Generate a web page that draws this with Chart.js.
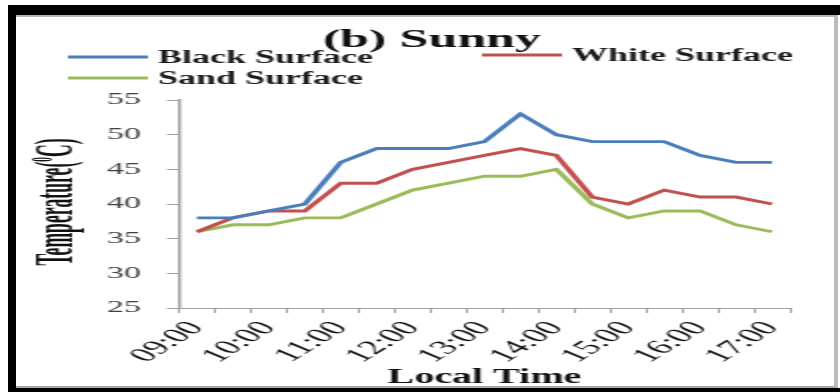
<!DOCTYPE html>
<html>
<head>
<meta charset="utf-8">
<script src="https://cdn.jsdelivr.net/npm/chart.js@4.4.0/dist/chart.umd.min.js"></script>
<style>
  html, body { margin: 0; padding: 0; background: #fff; }
  #wrap { position: relative; width: 840px; height: 392px; overflow: hidden; background: #fff; }
  #c { position: absolute; left: 0; top: 0; }
  .frame { position: absolute; box-sizing: content-box; }
</style>
</head>
<body>
<div id="wrap">
  <!-- drawn at half width, shown stretched across the frame -->
  <canvas id="c" width="420" height="392" style="width:840px;height:392px"></canvas>
  <div class="frame" style="left:16px;top:15px;width:818px;height:369px;border-top:2px solid #b4b4b4;border-right:4px solid #bcbcbc;border-bottom:2px solid #a8a8a8;"></div>
  <div class="frame" style="left:8px;top:5px;width:832px;height:10px;background:#000;"></div>
  <div class="frame" style="left:8px;top:5px;width:8px;height:387px;background:#000;"></div>
  <div class="frame" style="left:8px;top:388px;width:832px;height:4px;background:#000;"></div>
</div>
<script>
// Half-hourly readings, 09:00 to 17:00
const times = ['09:00','09:30','10:00','10:30','11:00','11:30','12:00','12:30','13:00',
               '13:30','14:00','14:30','15:00','15:30','16:00','16:30','17:00'];
const blackSurface = [38, 38, 39, 40, 46, 48, 48, 48, 49, 53, 50, 49, 49, 49, 47, 46, 46];
const whiteSurface = [36, 38, 39, 39, 43, 43, 45, 46, 47, 48, 47, 41, 40, 42, 41, 41, 40];
const sandSurface  = [36, 37, 37, 38, 38, 40, 42, 43, 44, 44, 45, 40, 38, 39, 39, 37, 36];
const seriesNames  = ['Black Surface', 'White Surface', 'Sand Surface'];
const seriesColors = ['#4a7ebb', '#c0504d', '#9bbb59'];
const yTicks = { min: 25, max: 55, step: 5 };
const chartTitle = '(b) Sunny';
const xTitle = 'Local Time';

const SERIF = '"Liberation Serif", "Times New Roman", serif';
Chart.defaults.font.family = SERIF;

// Title, legend and the y-axis caption
const decorations = {
  id: 'decorations',
  afterDraw(chart) {
    const ctx = chart.ctx;
    ctx.save();

    ctx.fillStyle = '#111';
    ctx.font = 'bold 26px ' + SERIF;
    ctx.textAlign = 'center';
    ctx.textBaseline = 'alphabetic';
    ctx.fillText(chartTitle, 216, 47);

    const slots = [{ x: 34, y: 57 }, { x: 241, y: 55 }, { x: 34, y: 78 }];
    ctx.font = 'bold 18px ' + SERIF;
    ctx.textAlign = 'left';
    chart.data.datasets.forEach((ds, i) => {
      const s = slots[i];
      ctx.strokeStyle = ds.borderColor;
      ctx.lineWidth = 3;
      ctx.beginPath();
      ctx.moveTo(s.x, s.y);
      ctx.lineTo(s.x + 40, s.y);
      ctx.stroke();
      ctx.fillStyle = '#1a1a1a';
      ctx.fillText(ds.label, s.x + 45, s.y + 6);
    });

    // Temperature(⁰C), condensed along its length
    ctx.translate(27, 202);
    ctx.rotate(-Math.PI / 2);
    ctx.scale(0.63, 1);
    ctx.fillStyle = '#111';
    const big = 'bold 28px ' + SERIF, small = 'bold 15px ' + SERIF;
    const parts = [['Temperature(', big, 0], ['0', small, -10], ['C)', big, 0]];
    let total = 0;
    parts.forEach(p => { ctx.font = p[1]; total += ctx.measureText(p[0]).width; });
    let x = -total / 2;
    parts.forEach(p => {
      ctx.font = p[1];
      ctx.fillText(p[0], x, 9 + p[2]);
      x += ctx.measureText(p[0]).width;
    });
    ctx.restore();
  }
};

new Chart(document.getElementById('c'), {
  type: 'line',
  data: {
    labels: times,
    datasets: [blackSurface, whiteSurface, sandSurface].map((vals, i) => ({
      label: seriesNames[i],
      data: vals,
      borderColor: seriesColors[i],
      backgroundColor: seriesColors[i],
      borderWidth: 2.9,
      pointRadius: 0,
      tension: 0,
      fill: false
    }))
  },
  options: {
    responsive: false,
    animation: false,
    devicePixelRatio: 1,
    layout: { padding: { top: 100, right: 25, bottom: 0, left: 0 } },
    plugins: { legend: { display: false }, title: { display: false }, tooltip: { enabled: false } },
    scales: {
      x: {
        type: 'category',
        offset: true,
        grid: { display: true, drawOnChartArea: false, drawTicks: true, tickLength: 5, offset: true, color: '#a0a0a0', lineWidth: 1 },
        border: { display: true, color: '#a0a0a0', width: 1 },
        ticks: {
          autoSkip: false,
          minRotation: 50,
          maxRotation: 50,
          padding: 4,
          color: '#111',
          font: { size: 20 },
          callback(value) {
            const t = this.getLabelForValue(value);
            return t.endsWith(':00') ? t : '';
          }
        },
        title: { display: true, text: xTitle, color: '#111', font: { size: 20, weight: 'bold' }, padding: { top: 0, bottom: 2 } },
        afterFit(scale) { scale.height = 84; }
      },
      y: {
        min: yTicks.min,
        max: yTicks.max,
        grid: { display: true, drawOnChartArea: false, drawTicks: true, tickLength: 6, color: '#a0a0a0', lineWidth: 1 },
        border: { display: true, color: '#a0a0a0', width: 1.5 },
        ticks: { stepSize: yTicks.step, padding: 13, color: '#404040', font: { size: 17 } },
        afterFit(scale) { scale.width = 89.5; }
      }
    }
  },
  plugins: [decorations]
});
</script>
</body>
</html>
